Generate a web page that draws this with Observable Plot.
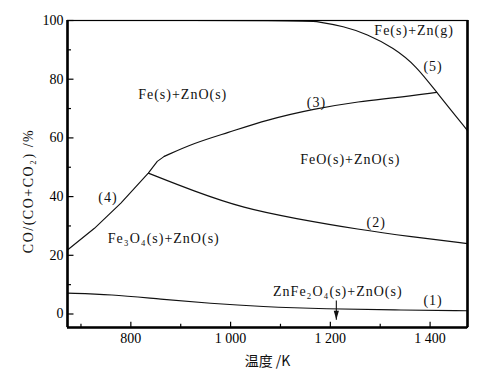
<!DOCTYPE html>
<html><head><meta charset="utf-8">
<script src="https://cdn.jsdelivr.net/npm/d3@7"></script>
<script src="https://cdn.jsdelivr.net/npm/@observablehq/plot@0.6"></script>
<style>
body{margin:0;background:#fff}
svg text{font-family:"Liberation Serif","Times New Roman",serif !important}
svg g[aria-description="xtitle"] text{font-family:"Noto Sans CJK SC","Liberation Serif",serif !important}
g[aria-description="regions"] text{letter-spacing:1px}
g[aria-description="ytitle"] text{letter-spacing:1.5px}
</style>
</head><body><div id="chart"></div>
<script>
// Boundary curves: temperature (K) and CO/(CO+CO2) (%)
const curve1T = [673, 760, 860, 960, 1060, 1193, 1327, 1475];
const curve1V = [7.1, 6.7, 5.0, 3.6, 2.5, 1.7, 1.4, 1.1];
const curve2T = [835, 927, 1027, 1127, 1260, 1360, 1475];
const curve2V = [48.0, 41.8, 36.0, 32.6, 28.7, 26.4, 24.0];
const curve4T = [673, 727, 780, 835, 853, 867];
const curve4V = [21.8, 29.2, 37.8, 48.0, 52.0, 53.7];
const curve3T = [867, 927, 993, 1073, 1167, 1260, 1327, 1413];
const curve3V = [53.7, 58.3, 61.7, 66.2, 69.9, 72.5, 73.6, 75.5];
const curve5T = [673, 1150, 1173, 1227, 1273, 1327, 1373, 1413, 1475];
const curve5V = [100, 100, 99.7, 98.0, 95.4, 90.7, 84.4, 75.5, 62.5];

// Region and curve labels
const labelText = ["Fe(s)+Zn(g)", "(5)", "Fe(s)+ZnO(s)", "(3)", "FeO(s)+ZnO(s)", "(4)", "(2)", "Fe₃O₄(s)+ZnO(s)", "ZnFe₂O₄(s)+ZnO(s)", "(1)"];
const labelT = [1368, 1406, 904, 1172, 1240, 754, 1292, 866, 1215, 1406];
const labelV = [96.7, 84.2, 74.7, 72.2, 52.6, 39.7, 31.2, 25.6, 7.8, 4.5];

// Arrow marking 1212 K
const arrowT = [1212];
const arrowTop = [4.6];
const arrowTip = [-2.0];

// Ticks
const xTickValues = [800, 1000, 1200, 1400];
const xTickLabels = ["800", "1 000", "1 200", "1 400"];
const xMinorTicks = [700, 900, 1100, 1300];
const yTickValues = [0, 20, 40, 60, 80, 100];
const yMinorTicks = [10, 30, 50, 70, 90];
const xTitle = "温度 /K";
const yTitle = "CO/(CO+CO₂) /%";

const xDomain = [673, 1475];
const yDomain = [-4.6, 100];

const rows = (ts, vs) => ts.map((t, i) => ({t, v: vs[i]}));
const labels = labelText.map((s, i) => ({s, t: labelT[i], v: labelV[i]}));
const arrows = arrowT.map((t, i) => ({t, y1: arrowTop[i], y2: arrowTip[i]}));

const headSymbol = {draw(ctx) { ctx.moveTo(0, 0); ctx.lineTo(-2.6, -9); ctx.lineTo(2.6, -9); ctx.closePath(); }};

const lineOpts = {x: "t", y: "v", stroke: "#111", strokeWidth: 1.15};

const chart = Plot.plot({
  width: 483, height: 373,
  marginLeft: 67, marginRight: 16, marginTop: 20, marginBottom: 46,
  x: {domain: xDomain},
  y: {domain: yDomain},
  style: {fontFamily: "'Liberation Serif','Times New Roman',serif", fontSize: "14px", color: "#000", background: "#fff"},
  marks: [
    Plot.line(rows(curve1T, curve1V), {...lineOpts, curve: "basis"}),
    Plot.line(rows(curve2T, curve2V), {...lineOpts, curve: "basis"}),
    Plot.line(rows(curve4T, curve4V), {...lineOpts, curve: "linear"}),
    Plot.line(rows(curve3T, curve3V), {...lineOpts, curve: "basis"}),
    Plot.line(rows(curve5T, curve5V), {...lineOpts, curve: "basis"}),
    Plot.link(arrows, {x1: "t", x2: "t", y1: "y1", y2: "y2", stroke: "#111", strokeWidth: 1.1}),
    Plot.dot(arrows, {x: "t", y: "y2", symbol: headSymbol, fill: "#111", stroke: "none"}),
    Plot.text(labels, {x: "t", y: "v", text: "s", fill: "#111", fontSize: 14, ariaDescription: "regions"}),
    // frame
    Plot.frame({stroke: "#000", strokeWidth: 1.2}),
    Plot.ruleX(xDomain, {stroke: "#000", strokeWidth: 2.6}),
    Plot.ruleY([yDomain[0]], {stroke: "#000", strokeWidth: 2.6}),
    // inward ticks
    Plot.ruleY(yTickValues, {x1: xDomain[0], x2: xDomain[0] + 13, stroke: "#000", strokeWidth: 1.2}),
    Plot.ruleY(yMinorTicks, {x1: xDomain[0], x2: xDomain[0] + 8, stroke: "#000", strokeWidth: 1.2}),
    Plot.ruleX(xTickValues, {y1: yDomain[0], y2: yDomain[0] + 1.8, stroke: "#000", strokeWidth: 1.2}),
    Plot.ruleX(xMinorTicks, {y1: yDomain[0], y2: yDomain[0] + 1.1, stroke: "#000", strokeWidth: 1.2}),
    // axis labels
    Plot.axisY({ticks: yTickValues, tickSize: 0, tickPadding: 4, label: null, fontSize: 14}),
    Plot.axisX({ticks: xTickValues, tickSize: 0, tickPadding: 6, label: null, fontSize: 14,
      tickFormat: d => xTickLabels[xTickValues.indexOf(d)]}),
    Plot.text([yTitle], {frameAnchor: "left", dx: -39, dy: 17, rotate: -90, textAnchor: "middle", lineAnchor: "middle", fontSize: 14, fill: "#111", ariaDescription: "ytitle"}),
    Plot.text([xTitle], {frameAnchor: "bottom", dy: 34, textAnchor: "middle", lineAnchor: "middle", fontSize: 14, fill: "#111", ariaDescription: "xtitle"})
  ]
});
document.getElementById("chart").append(chart);
</script>
</body></html>
